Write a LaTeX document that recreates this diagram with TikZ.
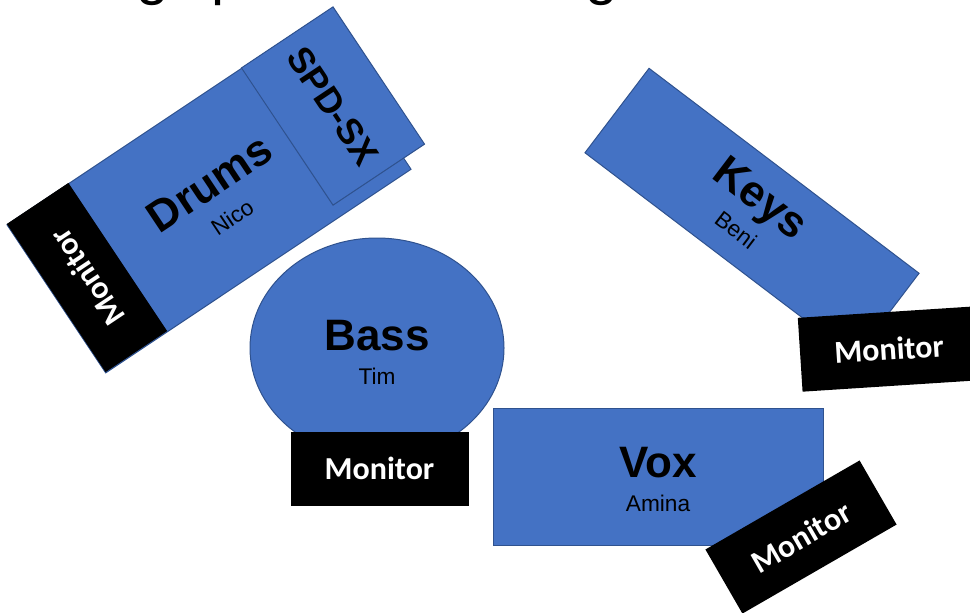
\documentclass[tikz,border=0pt]{standalone}
\usepackage{fontspec}
\setmainfont{Liberation Sans}
\newfontfamily\monfont{Carlito}
\usetikzlibrary{shapes.geometric}
\definecolor{instblue}{HTML}{4472C4}
\definecolor{instedge}{HTML}{2F528F}
\begin{document}
\begin{tikzpicture}[x=0.75pt,y=-0.75pt,
  inst/.style={draw=instedge, line width=0.75pt, fill=instblue, inner sep=0pt},
  monbox/.style={fill=black, text=white, minimum width=133.5pt, minimum height=55.5pt,
    inner sep=0pt, font=\monfont\bfseries\fontsize{24}{28}\selectfont},
  instname/.style={font=\bfseries\fontsize{33}{38}\selectfont, anchor=base, inner sep=0pt},
  who/.style={font=\fontsize{17}{20}\selectfont, anchor=base, inner sep=0pt},
  tglyph/.style={font=\fontsize{44}{50}\selectfont, anchor=base west, inner sep=0pt}]
\useasboundingbox (0,0) rectangle (970,612);
\clip (0,0) rectangle (970,612);

% cut-off title (only descenders visible)
\node[tglyph] (t1) at (136.7,-6.5) {g};
\node[tglyph] (t2) at (211,-6.5) {p};
\node[tglyph] (t3) at (585.7,-6.5) {g};

% Drums
\node[inst, rotate=33.7, minimum width=275.25pt, minimum height=133.5pt] (drums) at (209,197) {};
\node[inst, rotate=-56.3, minimum width=123.75pt, minimum height=82.5pt,
  font=\bfseries\fontsize{27}{32}\selectfont] (spd) at (333,106) {SPD-SX};
\node[monbox, rotate=123.7] (mondrums) at (87,277.5) {Monitor};
\begin{scope}[shift={(drums.center)}, rotate=33.7, transform shape]
  \node[instname] (drumst) at (8,4) {Drums};
  \node[who] (drumsn) at (8,38) {Nico};
\end{scope}

% Keys
\node[inst, rotate=-37.2, minimum width=254.25pt, minimum height=79.5pt] (keys) at (752,213) {};
\begin{scope}[shift={(keys.center)}, rotate=-37.2, transform shape]
  \node[instname] (keyst) at (-2,-3) {Keys};
  \node[who] (keysn) at (-2,31) {Beni};
\end{scope}
\node[monbox, rotate=3.7] (monkeys) at (889,349) {Monitor};

% Bass
\node[inst, ellipse, minimum width=190.5pt, minimum height=165pt] (bass) at (377,348) {};
\node[instname] (basst) at (377,350) {Bass};
\node[who] (bassn) at (377,384) {Tim};
\node[monbox] (monbass) at (379.5,468.5) {Monitor};

% Vox
\node[inst, minimum width=247.5pt, minimum height=102.75pt] (vox) at (658,476.5) {};
\node[instname] (voxt) at (658,477) {Vox};
\node[who] (voxn) at (658,511) {Amina};
\node[monbox, rotate=30] (monvox) at (801,537) {Monitor};
\end{tikzpicture}
\end{document}
